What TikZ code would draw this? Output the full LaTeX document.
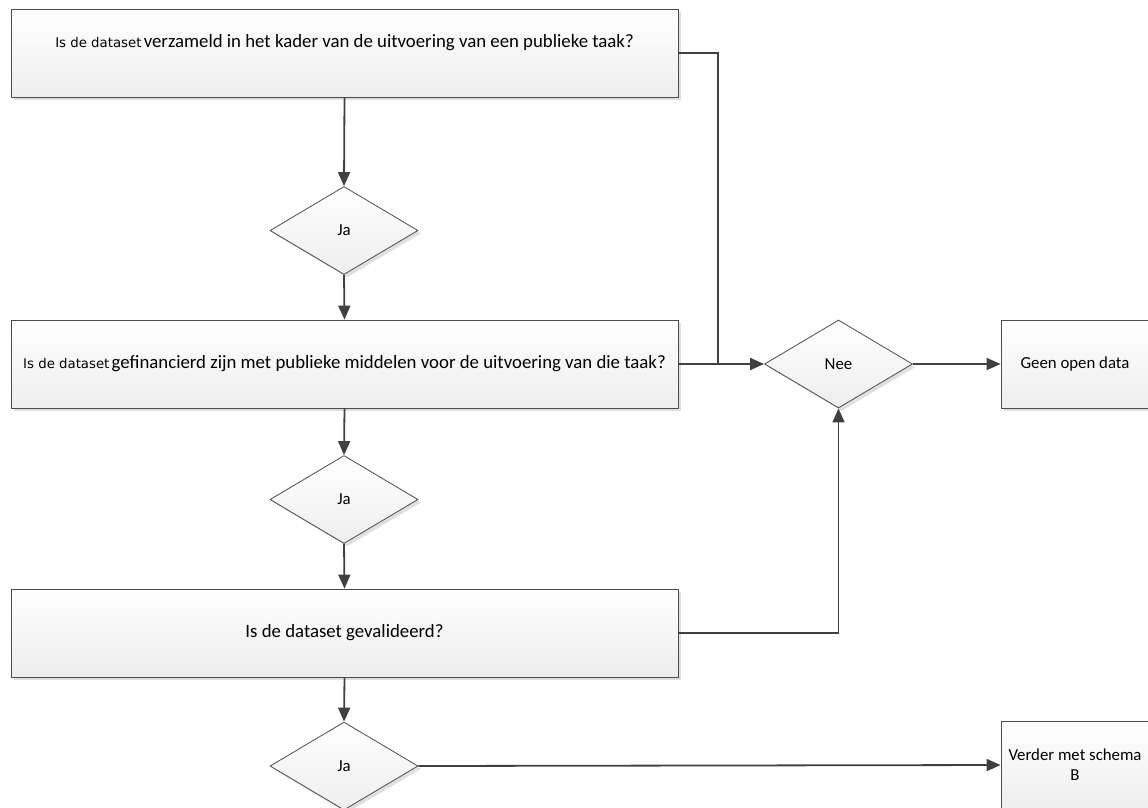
\documentclass[tikz,border=0pt]{standalone}
\usepackage{fontspec}
\setmainfont{Carlito}
\newfontfamily\qwide{DejaVu Sans}
\usetikzlibrary{shapes.geometric,arrows.meta,shadows}

\newcommand{\qsmall}{\qwide\fontsize{13.3}{16}\selectfont}
\newcommand{\qlabel}{\fontsize{16.8}{20}\selectfont}
\newcommand{\qlarge}{\fontsize{18.8}{23}\selectfont}

\begin{document}
\begin{tikzpicture}[x=1pt,y=-1pt,
    shade/.style={top color=white,bottom color=black!7,
        drop shadow={shadow xshift=3pt,shadow yshift=-3pt,fill=black!12,opacity=1}},
    box/.style={shade,draw=black!70,line width=0.8pt,rectangle,inner sep=2pt},
    question/.style={box,minimum width=667pt,minimum height=88pt},
    result/.style={box,minimum width=148pt,minimum height=88pt,font=\qlabel,align=center},
    choice/.style={shade,draw=black!70,line width=0.8pt,diamond,inner sep=0pt,
        minimum width=148pt,minimum height=88pt,font=\qlabel},
    line/.style={draw=black!75,line width=1.8pt},
    conn/.style={line,-{Triangle[length=14pt,width=12pt]}}]
\useasboundingbox (0,0) rectangle (1148,807);

% questions
\node[question,text depth=24pt] at (344.5,53)(q1){{\qsmall Is de dataset} \qlarge verzameld in het kader van de uitvoering van een publieke taak?};
\node[question] at (344.5,364)(q2){{\qsmall Is de dataset} \qlarge gefinancierd zijn met publieke middelen voor de uitvoering van die taak?};
\node[question,font=\qlarge] at (344.5,633)(q3){Is de dataset gevalideerd?};

% answers
\foreach \n/\y in {ja1/230.5, ja2/499.5, ja3/766}{
    \node[choice] at (344,\y)(\n){Ja};
}
\node[choice] at (838.5,364)(nee){Nee};

% outcomes
\node[result] at (1075,364)(geen){Geen open data};
\node[result] at (1075,765)(verder){Verder met schema\\B};

% flow
\draw[conn] (q1.south) -- (ja1.north);
\draw[conn] (ja1.south) -- (q2.north);
\draw[conn] (q2.south) -- (ja2.north);
\draw[conn] (ja2.south) -- (q3.north);
\draw[conn] (q3.south) -- (ja3.north);
\coordinate (join) at (718,364);
\path[line] (q1.east) -| (join);
\draw[conn] (q2.east) -- (nee.west);
\draw[conn] (q3.east) -| (nee.south);
\draw[conn] (nee.east) -- (geen.west);
\draw[conn] (ja3.east) -- (verder.west);
\end{tikzpicture}
\end{document}
